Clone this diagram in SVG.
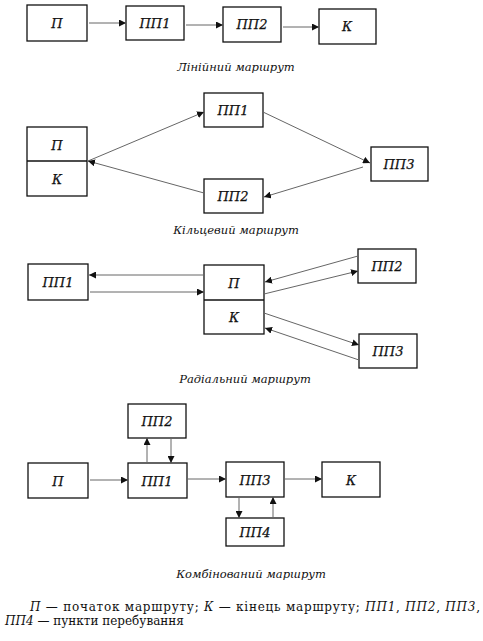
<svg xmlns="http://www.w3.org/2000/svg" width="483" height="641" viewBox="0 0 483 641">
<defs>
<marker id="ah" viewBox="0 0 10 10" refX="10" refY="5" markerWidth="7" markerHeight="7" markerUnits="userSpaceOnUse" orient="auto">
<path d="M0,0 L10,5 L0,10 z" fill="#111"/>
</marker>
<style>
.box{fill:#fff;stroke:#111;stroke-width:1.3}
.lbl{font-family:"DejaVu Serif","Liberation Serif",serif;font-style:italic;font-size:13px;text-anchor:middle;fill:#111;stroke:#111;stroke-width:0.25}
.cap{font-family:"DejaVu Serif","Liberation Serif",serif;font-style:italic;font-size:11.5px;text-anchor:middle;fill:#111}
.ln{stroke:#666;stroke-width:1;fill:none;marker-end:url(#ah)}
.foot{font-family:"DejaVu Serif","Liberation Serif",serif;font-size:12px;fill:#111}
.it{font-style:italic}
</style>
</defs>
<rect width="483" height="641" fill="#fff"/>

<!-- Linear -->
<g id="l-p"><rect class="box" x="27" y="5" width="60" height="36"/><text class="lbl" x="57" y="28">П</text></g>
<g id="l-pp1"><rect class="box" x="126" y="6" width="58" height="34"/><text class="lbl" x="155" y="28">ПП1</text></g>
<g id="l-pp2"><rect class="box" x="223" y="7" width="58" height="35"/><text class="lbl" x="252" y="29">ПП2</text></g>
<g id="l-k"><rect class="box" x="319" y="9" width="57" height="35"/><text class="lbl" x="347" y="31">К</text></g>
<text class="cap" x="236" y="71">Лінійний маршрут</text>

<!-- Ring -->
<g id="r-pk"><rect class="box" x="27" y="127" width="60" height="69"/><line x1="27" y1="161" x2="87" y2="161" stroke="#111" stroke-width="1.3"/><text class="lbl" x="57" y="150">П</text><text class="lbl" x="57" y="184">К</text></g>
<g id="r-pp1"><rect class="box" x="204" y="93" width="59" height="34"/><text class="lbl" x="233" y="115">ПП1</text></g>
<g id="r-pp3"><rect class="box" x="371" y="147" width="57" height="34"/><text class="lbl" x="399" y="169">ПП3</text></g>
<g id="r-pp2"><rect class="box" x="204" y="179" width="59" height="34"/><text class="lbl" x="233" y="201">ПП2</text></g>
<text class="cap" x="236" y="234">Кільцевий маршрут</text>

<!-- Radial -->
<g id="d-pp1"><rect class="box" x="28" y="264" width="60" height="36"/><text class="lbl" x="58" y="287">ПП1</text></g>
<g id="d-pk"><rect class="box" x="204" y="265" width="60" height="69"/><line x1="204" y1="300" x2="264" y2="300" stroke="#111" stroke-width="1.3"/><text class="lbl" x="234" y="288">П</text><text class="lbl" x="234" y="322">К</text></g>
<g id="d-pp2"><rect class="box" x="358" y="249" width="58" height="34"/><text class="lbl" x="387" y="271">ПП2</text></g>
<g id="d-pp3"><rect class="box" x="359" y="334" width="58" height="34"/><text class="lbl" x="388" y="356">ПП3</text></g>
<text class="cap" x="245" y="383">Радіальний маршрут</text>

<!-- Combined -->
<g id="c-pp2"><rect class="box" x="128" y="404" width="58" height="34"/><text class="lbl" x="157" y="426">ПП2</text></g>
<g id="c-p"><rect class="box" x="28" y="463" width="60" height="35"/><text class="lbl" x="58" y="486">П</text></g>
<g id="c-pp1"><rect class="box" x="128" y="463" width="59" height="35"/><text class="lbl" x="157" y="486">ПП1</text></g>
<g id="c-pp3"><rect class="box" x="226" y="462" width="58" height="35"/><text class="lbl" x="255" y="485">ПП3</text></g>
<g id="c-k"><rect class="box" x="322" y="462" width="58" height="35"/><text class="lbl" x="351" y="485">К</text></g>
<g id="c-pp4"><rect class="box" x="226" y="518" width="58" height="28"/><text class="lbl" x="255" y="537">ПП4</text></g>
<text class="cap" x="251" y="578">Комбінований маршрут</text>

<g id="connectors">
<line class="ln" x1="89" y1="23" x2="126" y2="23"/>
<line class="ln" x1="186" y1="25" x2="223" y2="25"/>
<line class="ln" x1="283" y1="27" x2="319" y2="27"/>

<line class="ln" x1="88" y1="161" x2="204" y2="112"/>
<line class="ln" x1="263" y1="112" x2="370" y2="163"/>
<line class="ln" x1="363" y1="167" x2="264" y2="197"/>
<line class="ln" x1="204" y1="193" x2="88" y2="161"/>

<line class="ln" x1="204" y1="275" x2="89" y2="275"/>
<line class="ln" x1="90" y1="292" x2="204" y2="292"/>
<line class="ln" x1="358" y1="256" x2="265" y2="282"/>
<line class="ln" x1="264" y1="294" x2="358" y2="271"/>
<line class="ln" x1="264" y1="313" x2="359" y2="345"/>
<line class="ln" x1="359" y1="360" x2="265" y2="328"/>

<line class="ln" x1="90" y1="480" x2="128" y2="480"/>
<line class="ln" x1="188" y1="479" x2="226" y2="479"/>
<line class="ln" x1="285" y1="479" x2="322" y2="479"/>
<line class="ln" x1="147" y1="463" x2="147" y2="438"/>
<line class="ln" x1="171" y1="438" x2="171" y2="463"/>
<line class="ln" x1="239" y1="497" x2="239" y2="518"/>
<line class="ln" x1="273" y1="518" x2="273" y2="497"/>
</g>

<text class="foot" x="30" y="611" textLength="450" lengthAdjust="spacing"><tspan class="it">П</tspan> — початок маршруту; <tspan class="it">К</tspan> — кінець маршруту; <tspan class="it">ПП1</tspan>, <tspan class="it">ПП2</tspan>, <tspan class="it">ПП3</tspan>,</text>
<text class="foot" x="5" y="625"><tspan class="it">ПП4</tspan> — пункти перебування</text>
</svg>
